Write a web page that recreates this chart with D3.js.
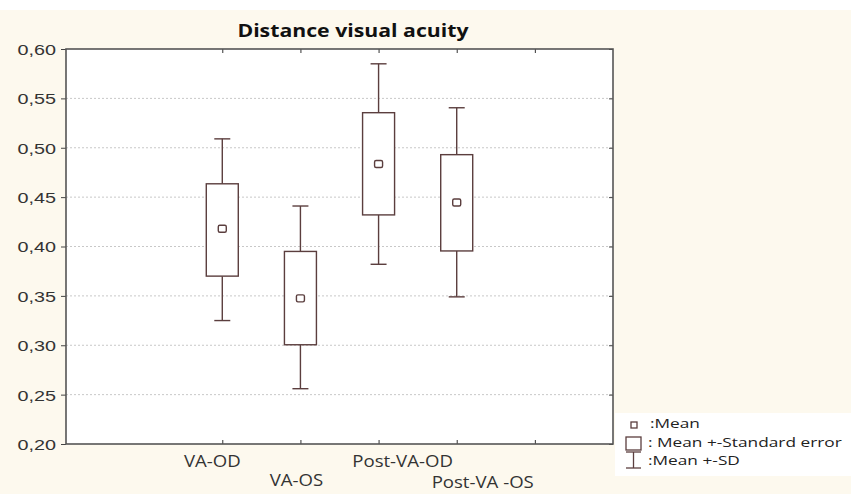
<!DOCTYPE html>
<html><head><meta charset="utf-8">
<script src="https://cdn.jsdelivr.net/npm/d3@7"></script>
<style>
html,body{margin:0;padding:0;background:#fff;}
svg{display:block;}
</style></head>
<body>
<svg id="c" width="851" height="494"></svg>
<script>
const categories = ["VA-OD", "VA-OS", "Post-VA-OD", "Post-VA -OS"];
const means   = [0.418, 0.3475, 0.4835, 0.4445];
const seLow   = [0.370, 0.3005, 0.432, 0.3955];
const seHigh  = [0.4635, 0.395, 0.5355, 0.493];
const sdLow   = [0.325, 0.256, 0.382, 0.349];
const sdHigh  = [0.509, 0.441, 0.585, 0.5405];
const yTicks  = [0.20, 0.25, 0.30, 0.35, 0.40, 0.45, 0.50, 0.55, 0.60];
const xTickPos = [2, 3, 4, 5, 6];
const catPos  = [2, 3, 4, 5];
const legendItems = [":Mean", ": Mean +-Standard error", ":Mean +-SD"];
const title = "Distance visual acuity";

(function(){
const svg = d3.select("#c");
const W = 851, H = 494;
const pL = 66, pR = 613, pT = 49, pB = 444;
const stroke = "#5b3e3e";
const sans = "'Open Sans', 'Noto Sans', sans-serif";

function stext(parent, x, y, s, txt){
  return parent.append("text").attr("transform",`translate(${x},${y}) scale(${s},1)`).text(txt);
}

svg.append("rect").attr("x",0).attr("y",10).attr("width",W).attr("height",H-10).attr("fill","#fdf9ee");
svg.append("rect").attr("x",pL).attr("y",pT).attr("width",pR-pL).attr("height",pB-pT).attr("fill","#fff");

const x = d3.scaleLinear().domain([0,7]).range([pL,pR]);
const y = d3.scaleLinear().domain([0.20,0.60]).range([pB,pT]);

svg.append("g").selectAll("line").data(yTicks.slice(1,-1)).join("line")
  .attr("x1",pL).attr("x2",pR).attr("y1",d=>y(d)).attr("y2",d=>y(d))
  .attr("stroke","#c8c8c8").attr("stroke-width",1).attr("stroke-dasharray","2,2");

const fmt = d => d3.format(".2f")(d).replace(".", ",");
const yAxis = d3.axisLeft(y).tickValues(yTicks).tickFormat(fmt).tickSize(5).tickPadding(5);
const gy = svg.append("g").attr("transform",`translate(${pL},0)`).call(yAxis);
gy.select(".domain").remove();
gy.selectAll("line").attr("stroke","#444");
gy.selectAll("text").attr("x",null).attr("dy","0.36em")
  .attr("transform","translate(-10,0) scale(1.32,1)")
  .attr("font-family","Arial, 'Liberation Sans', sans-serif").attr("font-size",15).attr("fill","#333");

const yAxisR = d3.axisLeft(y).tickValues(yTicks).tickFormat("").tickSize(4);
const gyr = svg.append("g").attr("transform",`translate(${pR},0)`).call(yAxisR);
gyr.select(".domain").remove();
gyr.selectAll("line").attr("stroke","#444");

const xAxisB = d3.axisTop(x).tickValues(xTickPos).tickFormat("").tickSize(4);
const gxb = svg.append("g").attr("transform",`translate(0,${pB})`).call(xAxisB);
gxb.select(".domain").remove();
gxb.selectAll("line").attr("stroke","#333");
const xAxisT = d3.axisBottom(x).tickValues(xTickPos).tickFormat("").tickSize(4);
const gxt = svg.append("g").attr("transform",`translate(0,${pT})`).call(xAxisT);
gxt.select(".domain").remove();
gxt.selectAll("line").attr("stroke","#333");

svg.append("rect").attr("x",pL).attr("y",pT).attr("width",pR-pL).attr("height",pB-pT)
  .attr("fill","none").attr("stroke","#555").attr("stroke-width",1.6);

const bw = 32, cw = 16;
const g = svg.append("g").attr("stroke",stroke).attr("stroke-width",1.4).attr("fill","none");
categories.forEach((c,i)=>{
  const cx = x(catPos[i]);
  g.append("line").attr("x1",cx).attr("x2",cx).attr("y1",y(sdHigh[i])).attr("y2",y(seHigh[i]));
  g.append("line").attr("x1",cx).attr("x2",cx).attr("y1",y(seLow[i])).attr("y2",y(sdLow[i]));
  g.append("line").attr("x1",cx-cw/2).attr("x2",cx+cw/2).attr("y1",y(sdHigh[i])).attr("y2",y(sdHigh[i]));
  g.append("line").attr("x1",cx-cw/2).attr("x2",cx+cw/2).attr("y1",y(sdLow[i])).attr("y2",y(sdLow[i]));
  g.append("rect").attr("x",cx-bw/2).attr("y",y(seHigh[i])).attr("width",bw).attr("height",y(seLow[i])-y(seHigh[i])).attr("fill","#fff");
  g.append("rect").attr("x",cx-4).attr("y",y(means[i])-3.5).attr("width",8).attr("height",7).attr("rx",1.5).attr("fill","#fff");
});

// x labels
const dx = [-10,-4,24,26], ly = [467,486,467,488];
const gl = svg.append("g").attr("text-anchor","middle").attr("font-family",sans).attr("font-size",15.5).attr("fill","#333");
categories.forEach((c,i)=>{ stext(gl, x(catPos[i]) + dx[i], ly[i], 1.2, c); });

// title
stext(svg, 353, 37, 1.25, title).attr("text-anchor","middle")
  .attr("font-family",sans).attr("font-weight","bold").attr("font-size",17).attr("fill","#111");

// legend
svg.append("rect").attr("x",615).attr("y",413).attr("width",236).attr("height",63).attr("fill","#fff");
const lg = svg.append("g").attr("stroke",stroke).attr("stroke-width",1.3).attr("fill","none");
lg.append("rect").attr("x",631).attr("y",422).attr("width",6).attr("height",6);
lg.append("rect").attr("x",626).attr("y",437).attr("width",15).attr("height",13);
lg.append("line").attr("x1",626).attr("x2",641).attr("y1",452).attr("y2",452);
lg.append("line").attr("x1",633.5).attr("x2",633.5).attr("y1",452).attr("y2",468);
lg.append("line").attr("x1",626).attr("x2",641).attr("y1",468).attr("y2",468);
const lx = [650,648,648], lyy = [428,447,465];
const glt = svg.append("g").attr("font-family",sans).attr("font-size",13.5).attr("fill","#222");
legendItems.forEach((t,i)=>{ stext(glt, lx[i], lyy[i], 1.28, t); });
})();
</script>
</body></html>
